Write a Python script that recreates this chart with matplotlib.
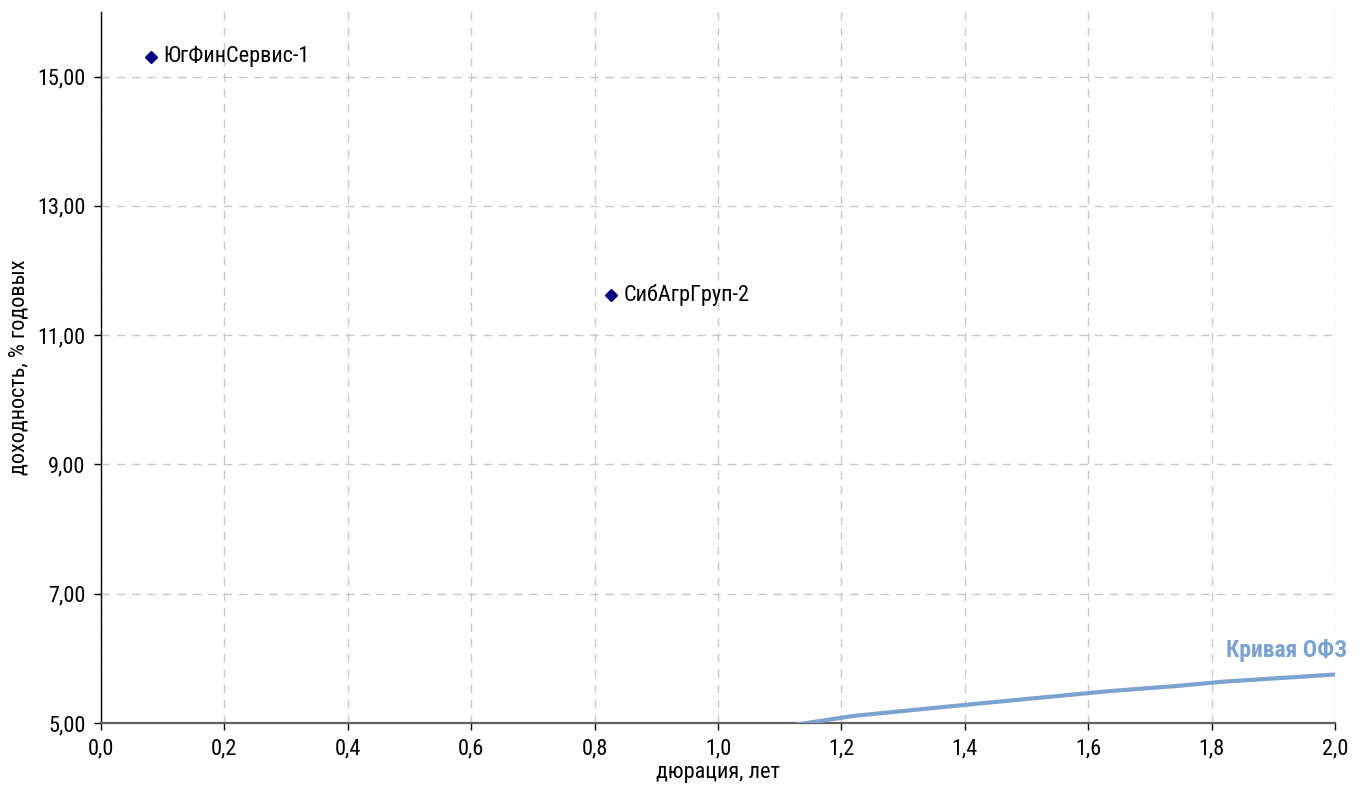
import matplotlib
matplotlib.use("Agg")
import matplotlib.pyplot as plt
from matplotlib.ticker import FixedLocator, FuncFormatter

# ---- data ----
bond_names = ["ЮгФинСервис-1", "СибАгрГруп-2"]
bond_duration = [0.081, 0.827]
bond_yield = [15.31, 11.62]

ofz_duration = [0.95, 1.22, 1.40, 1.63, 1.74, 1.82, 2.00]
ofz_yield = [4.72, 5.11, 5.28, 5.49, 5.57, 5.64, 5.75]
ofz_label = "Кривая ОФЗ"

x_ticks = [0.0, 0.2, 0.4, 0.6, 0.8, 1.0, 1.2, 1.4, 1.6, 1.8, 2.0]
y_ticks = [5.0, 7.0, 9.0, 11.0, 13.0, 15.0]
x_label = "дюрация, лет"
y_label = "доходность, % годовых"

# ---- fonts ----
plt.rcParams["font.family"] = ["Roboto Condensed", "Liberation Sans", "DejaVu Sans"]
FS = 16

fig = plt.figure(figsize=(13.66, 7.91), dpi=100)
ax = fig.add_axes([101 / 1366, 1 - 723 / 791, (1335 - 101) / 1366, (723 - 12) / 791])

ax.set_xlim(0, 2.0)
ax.set_ylim(5, 16)

ax.plot(ofz_duration, ofz_yield, color="#7BA3CF", lw=3, solid_capstyle="butt", zorder=3)
ax.plot(bond_duration, bond_yield, linestyle="none", marker="D", markersize=6.5,
        color="#000080", zorder=4)
for n, x, y in zip(bond_names, bond_duration, bond_yield):
    ax.annotate(n, (x, y), xytext=(9, 0), textcoords="offset points",
                va="center", ha="left", fontsize=FS, color="black")

ax.annotate(ofz_label, (ofz_duration[-1], ofz_yield[-1]), xytext=(9, 9),
            textcoords="offset points", ha="right", va="bottom",
            fontsize=17, fontweight="bold", color="#7BA3CF", annotation_clip=False)

ax.xaxis.set_major_locator(FixedLocator(x_ticks))
ax.yaxis.set_major_locator(FixedLocator(y_ticks))
ax.xaxis.set_major_formatter(FuncFormatter(lambda v, p: f"{v:.1f}".replace(".", ",")))
ax.yaxis.set_major_formatter(FuncFormatter(lambda v, p: f"{v:.2f}".replace(".", ",")))

ax.grid(True, color="#C8C8C8", linestyle=(0, (6, 5)), linewidth=1)
ax.set_axisbelow(True)

for s in ["top", "right"]:
    ax.spines[s].set_visible(False)
ax.spines["left"].set_color("black")
ax.spines["left"].set_linewidth(1)
ax.spines["bottom"].set_color("#606060")
ax.spines["bottom"].set_linewidth(1.6)

ax.tick_params(axis="both", direction="out", length=5, width=1, color="black",
               labelsize=FS, pad=6)

ax.set_xlabel(x_label, fontsize=FS, labelpad=2)
ax.set_ylabel(y_label, fontsize=FS, labelpad=6)

fig.savefig("out.png", dpi=100)
